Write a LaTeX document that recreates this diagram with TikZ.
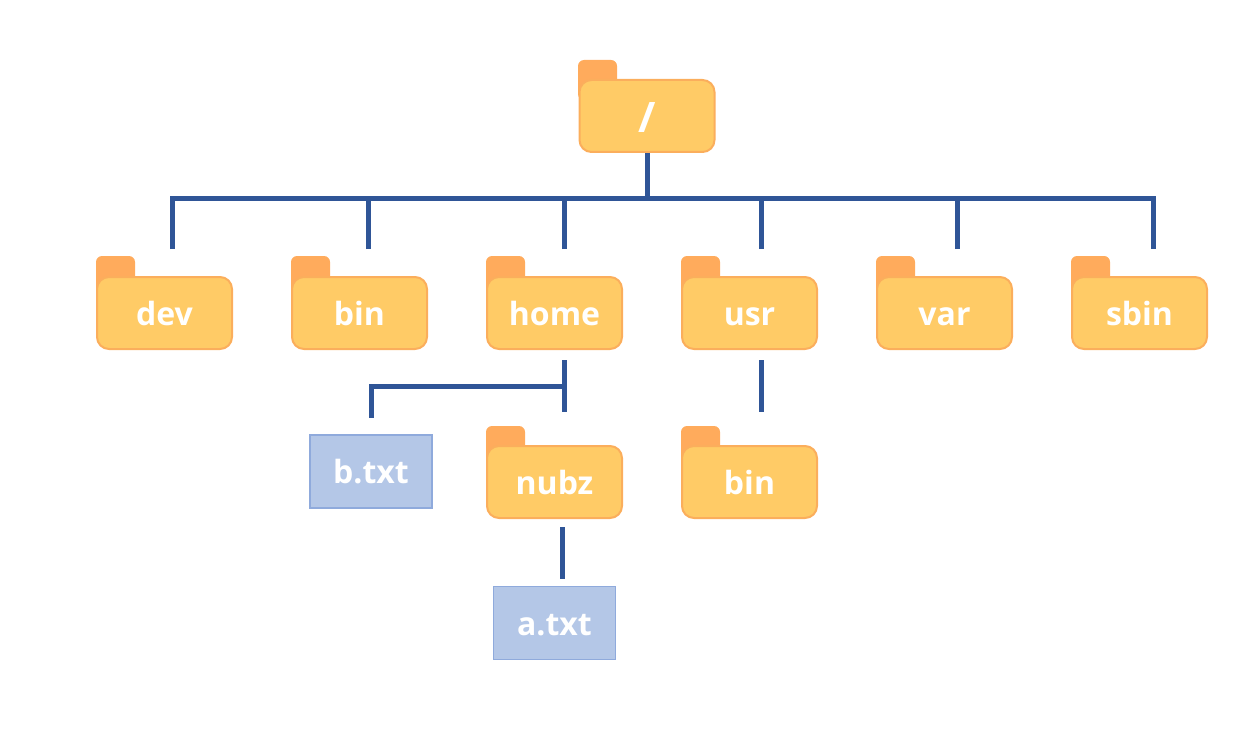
\documentclass[tikz,border=0pt]{standalone}
\usepackage{fontspec}
\setmainfont{Open Sans}
\usepackage{xcolor}
\definecolor{folderFill}{HTML}{FFCB66}
\definecolor{folderEdge}{HTML}{FBAE5C}
\definecolor{tabFill}{HTML}{FFAB5C}
\definecolor{fileFill}{HTML}{B4C7E7}
\definecolor{fileEdge}{HTML}{8FAADC}
\definecolor{linkBlue}{HTML}{2F5597}
\usetikzlibrary{positioning}

\begin{document}
\begin{tikzpicture}[x=1pt, y=-1pt,
    every node/.style={font=\fontsize{32}{36}\selectfont\bfseries, text=white},
    folder/.style={draw=folderEdge, fill=folderFill, rounded corners=12pt,
                   minimum width=135pt, minimum height=72pt, line width=2pt,
                   inner sep=0pt, text height=24pt, text depth=0pt, align=center},
    foldertab/.style={draw=none, fill=tabFill, rounded corners=6pt,
                      minimum width=39pt, minimum height=40pt, inner sep=0pt},
    textfile/.style={draw=fileEdge, fill=fileFill, line width=1.5pt,
                     minimum width=122pt, minimum height=73pt, inner sep=0pt,
                     text height=24pt, text depth=0pt, align=center},
    link/.style={draw=linkBlue, line width=5pt, miter limit=10}]
  \useasboundingbox (0,0) rectangle (1257,730);
  % folders
  \node[foldertab] (roottab) at (597.5,80) {};
  \node[folder, text height=34pt, font=\fontsize{42}{46}\selectfont\bfseries] (root) at (647,116) {/};
  \node[foldertab] (devtab) at (115.5,276) {};
  \node[folder] (dev) at (164.5,313) {dev};
  \node[foldertab] (bintab) at (310.5,276) {};
  \node[folder] (bin) at (359.5,313) {bin};
  \node[foldertab] (hometab) at (505.5,276) {};
  \node[folder] (home) at (554.5,313) {home};
  \node[foldertab] (usrtab) at (700.5,276) {};
  \node[folder] (usr) at (749.5,313) {usr};
  \node[foldertab] (vartab) at (895.5,276) {};
  \node[folder] (var) at (944.5,313) {var};
  \node[foldertab] (sbintab) at (1090.5,276) {};
  \node[folder] (sbin) at (1139.5,313) {sbin};
  \node[foldertab] (nubztab) at (505.5,446) {};
  \node[folder] (nubz) at (554.5,482) {nubz};
  \node[foldertab] (usrbintab) at (700.5,446) {};
  \node[folder] (usrbin) at (749.5,482) {bin};
  % files
  \node[textfile] (bfile) at (371,471.5) {b.txt};
  \node[textfile] (afile) at (554.5,623) {a.txt};
  % free ends
  \coordinate (busleft) at (172,198);
  \coordinate (busright) at (1153,198);
  \coordinate (devdrop) at (172,249);
  \coordinate (bindrop) at (368,249);
  \coordinate (homedrop) at (564,249);
  \coordinate (usrdrop) at (761,249);
  \coordinate (vardrop) at (957,249);
  \coordinate (sbindrop) at (1153,249);
  \coordinate (hometop) at (564,360);
  \coordinate (homeend) at (564,412);
  \coordinate (homefork) at (564,386);
  \coordinate (bfileend) at (371,418);
  \coordinate (usrtop) at (761,360);
  \coordinate (usrend) at (761,412);
  \coordinate (nubztop) at (562,527);
  \coordinate (nubzend) at (562,579);
  % links
  \draw[link] (root.south) -- (root.south |- busleft);
  \draw[link] (devdrop) -- (busleft) -- (busright) -- (sbindrop);
  \draw[link] (bindrop) -- (bindrop |- busleft);
  \draw[link] (homedrop) -- (homedrop |- busleft);
  \draw[link] (usrdrop) -- (usrdrop |- busleft);
  \draw[link] (vardrop) -- (vardrop |- busleft);
  \draw[link] (hometop) -- (homeend);
  \draw[link] (homefork) -| (bfileend);
  \draw[link] (usrtop) -- (usrend);
  \draw[link] (nubztop) -- (nubzend);
\end{tikzpicture}
\end{document}
